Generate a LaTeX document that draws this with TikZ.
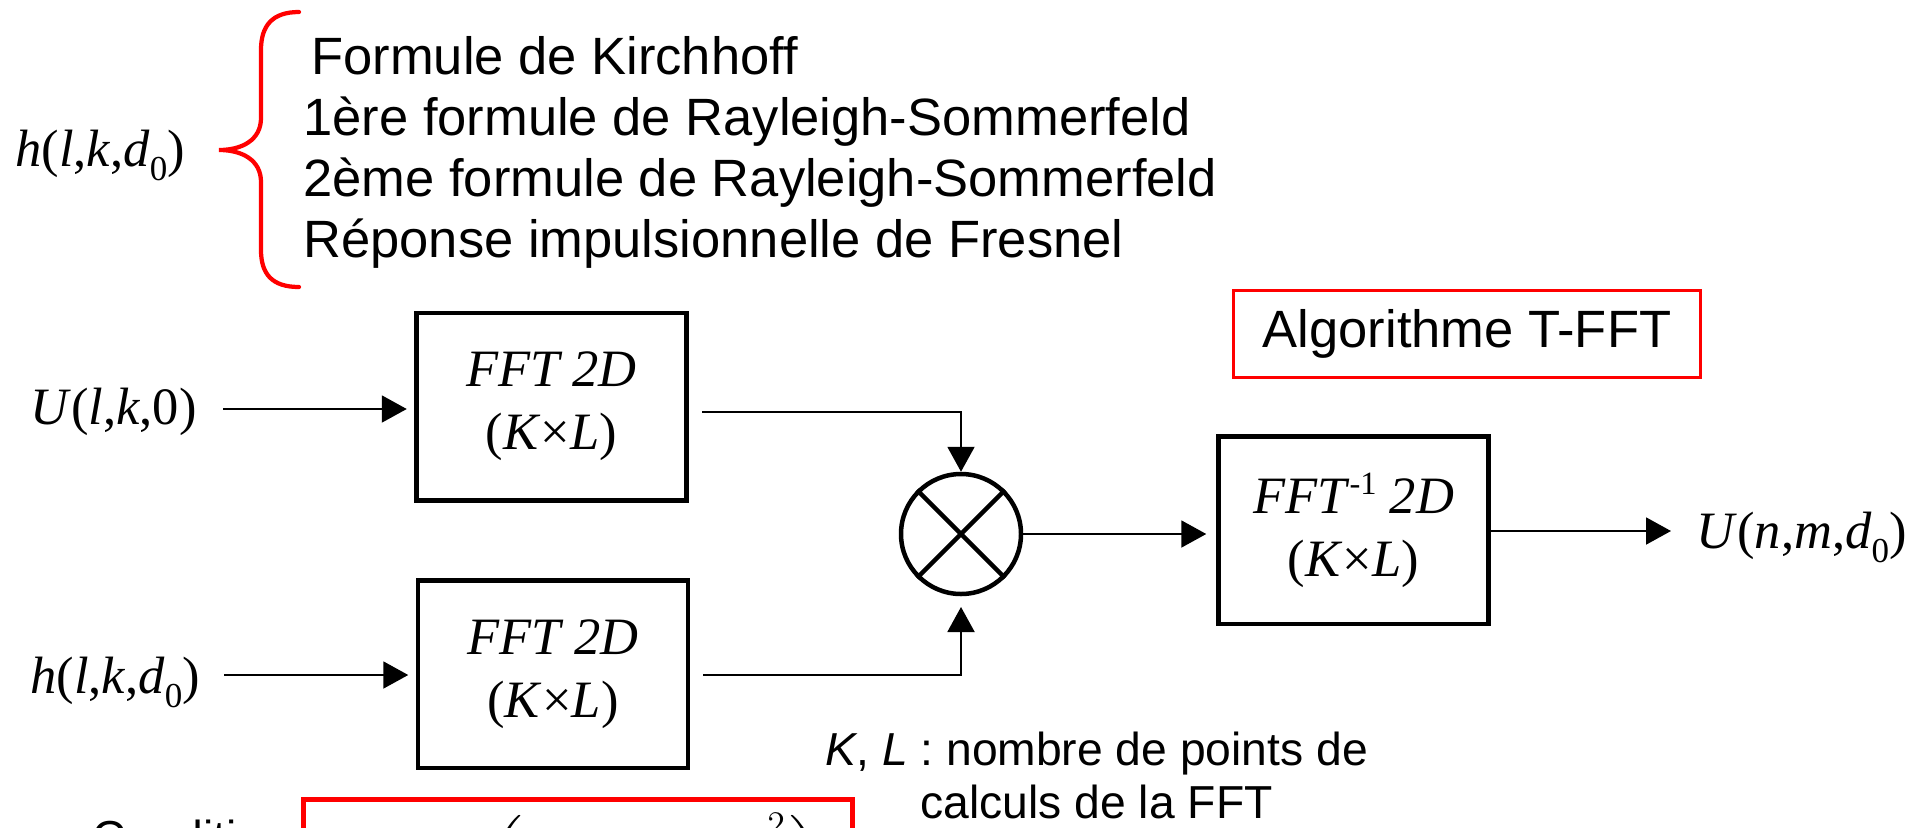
\documentclass[tikz,border=0pt]{standalone}
\usepackage{amsmath}
\usepackage{fontspec}
\setmainfont{Liberation Sans}
\newfontfamily\tms{Liberation Serif}
\usetikzlibrary{arrows.meta}
\definecolor{rd}{RGB}{255,0,0}

% small lowered / raised indices set in the serif face
\newcommand\idx[1]{\raisebox{-0.28em}{\fontsize{14}{14}\selectfont #1}}
\newcommand\expo[1]{\raisebox{0.36em}{\fontsize{13}{13}\selectfont #1}}
\newcommand\hlbl{\textit{h}(\textit{l},\textit{k},\textit{d}\idx{0})}

\tikzset{
  big/.style={font=\fontsize{21}{25.2}\selectfont},
  small/.style={font=\fontsize{18.5}{21.2}\selectfont},
  serif/.style={font=\fontsize{21}{25.2}\selectfont\tms},
  blk/.style={draw, line width=1.8pt, minimum width=108pt, minimum height=75pt,
              inner sep=0pt, align=center, serif},
  arr/.style={line width=0.8pt, -{Triangle[length=10pt,width=10.8pt]}},
  brace/.style={draw=rd, line width=1.7pt, line cap=round},
  txt/.style={inner sep=0pt, anchor=base west},
}

\begin{document}
\begin{tikzpicture}[x=0.4pt,y=-0.4pt]
\useasboundingbox (0,0) rectangle (1914,827);
\clip (0,0) rectangle (1914,827);

% ---- list of impulse responses ----
\node[txt, serif] (hl) at (15,166) {\hlbl};
\coordinate (bt) at (299,12);
\coordinate (bb) at (299,287);
\coordinate (tip) at (219,150);
\path[brace] (bt) .. controls (272,12) and (261,26) .. (261,50) -- (261,118)
  .. controls (261,140) and (242,150) .. (tip)
  .. controls (242,150) and (261,160) .. (261,182) -- (261,250)
  .. controls (261,274) and (272,287) .. (bb);
\node[txt, big] (l1) at (311,74)  {Formule de Kirchhoff};
\node[txt, big] (l2) at (303,135) {1ère formule de Rayleigh-Sommerfeld};
\node[txt, big] (l3) at (303,196) {2ème formule de Rayleigh-Sommerfeld};
\node[txt, big] (l4) at (303,257) {Réponse impulsionnelle de Fresnel};

% ---- title box ----
\node[draw=rd, line width=0.9pt, minimum width=186.8pt, minimum height=34.8pt,
      inner sep=0pt, big] (algo) at (1467,334) {Algorithme T-FFT};

% ---- processing blocks ----
\node[blk] (b1) at (551.5,406.5) {\textit{FFT 2D}\\(\textit{K}×\textit{L})};
\node[blk] (b2) at (553,674)     {\textit{FFT 2D}\\(\textit{K}×\textit{L})};
\node[blk] (b3) at (1353.5,530)  {\textit{FFT}\expo{-1} \textit{2D}\\(\textit{K}×\textit{L})};
\node[draw, circle, line width=1.8pt, minimum size=48pt, inner sep=0pt] (mul) at (961,534) {};
\draw[line width=1.8pt] (mul.north west) -- (mul.south east)
                        (mul.north east) -- (mul.south west);

% ---- inputs ----
\node[txt, serif] (u0) at (30,424) {\textit{U}(\textit{l},\textit{k},0)};
\node[txt, serif] (h0) at (30,693) {\hlbl};
\coordinate (i1) at (223,409);
\coordinate (i2) at (224,675);
\draw[arr, shorten >=3pt] (i1) -- (i1 -| b1.west);
\draw[arr, shorten >=3pt] (i2) -- (i2 -| b2.west);

% ---- product ----
\coordinate (o1) at (702,412);
\coordinate (o2) at (703,675);
\coordinate (m2) at (961,607);
\draw[arr] (o1) -| (mul.north);
\draw[arr] (o2) -| (m2);
\draw[arr, shorten >=4pt] (mul.east) -- (mul.east -| b3.west);

% ---- output ----
\coordinate (out) at (1671,531);
\draw[arr] (b3.east |- out) -- (out);
\node[txt, serif] (un) at (1696,548) {\textit{U}(\textit{n},\textit{m},\textit{d}\idx{0})};

% ---- note ----
\node[txt, small] (kl) at (825,765) {\textit{K}, \textit{L} : nombre de points de};
\node[txt, small] (kl2) at (920,818) {calculs de la FFT};

% ---- sampling condition ----
\node[txt, small] (cond) at (92,853) {Condition :};
\draw[rd, line width=2pt] (303,799) rectangle (852,980);
\node[inner sep=0pt, anchor=north east, font=\fontsize{21}{25.2}\selectfont] (frm) at (828,813)
  {$d_0 \leq \left(\dfrac{\cdots\cdots\cdots\, p^{2}}{\lambda}\right)$};
\end{tikzpicture}
\end{document}
